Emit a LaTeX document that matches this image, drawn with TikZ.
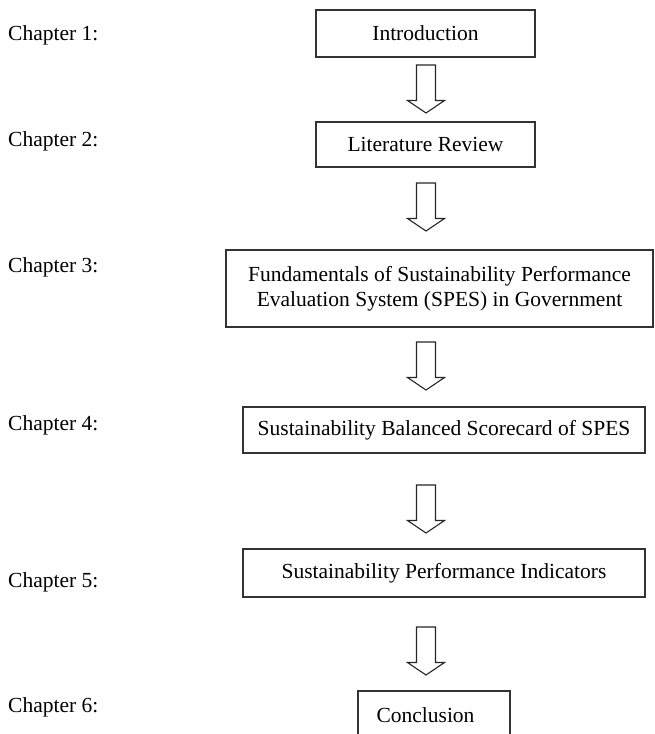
\documentclass[tikz,border=0pt]{standalone}
\usepackage{fontspec}
\setmainfont{Liberation Serif}
\begin{document}
\begin{tikzpicture}[x=1pt,y=1pt,
  stage/.style={draw=black!80, line width=1.4pt, inner sep=0pt, align=center,
                font=\fontsize{21.5}{25}\selectfont},
  caption/.style={inner sep=0pt, font=\fontsize{21.5}{25}\selectfont},
  chap/.style={caption, anchor=west},
  flowline/.style={draw=black!85, line width=1.1pt, line join=miter},
  downarrow/.pic={
    \draw[flowline] (-9.5,0) -- (-9.5,-35.5) -- (-18.5,-35.5) -- (0,-48)
      -- (18.5,-35.5) -- (9.5,-35.5) -- (9.5,0) -- cycle;}
]
\useasboundingbox (0,0) rectangle (654,-734);
\clip (0,0) rectangle (654,-734);

% chapter captions
\node[chap] (c1) at (8,-35)  {Chapter 1:};
\node[chap] (c2) at (8,-141) {Chapter 2:};
\node[chap] (c3) at (8,-267) {Chapter 3:};
\node[chap] (c4) at (8,-425) {Chapter 4:};
\node[chap] (c5) at (8,-582) {Chapter 5:};
\node[chap] (c6) at (8,-707) {Chapter 6:};

% stages of the thesis
\node[stage, minimum width=219pt, minimum height=47pt] (s1) at (425.5,-33.5) {Introduction};
\node[stage, minimum width=219pt, minimum height=45pt] (s2) at (425.5,-144.5) {Literature Review};
\node[stage, minimum width=427pt, minimum height=77pt] (s3) at (439.5,-288.5)
  {Fundamentals of Sustainability Performance\\Evaluation System (SPES) in Government};
\node[stage, minimum width=402pt, minimum height=46pt] (s4) at (444,-430)
  {Sustainability Balanced Scorecard of SPES};
\node[stage, minimum width=402pt, minimum height=48pt] (s5) at (444,-573)
  {Sustainability Performance Indicators};
% last stage: the box runs off the lower edge, its text sits left of centre
\node[stage, minimum width=152pt, minimum height=50pt] (s6) at (434,-716) {};
\node[caption] (s6text) at (425.5,-715) {Conclusion};

% block arrows between the stages
\pic at (426,-65)  {downarrow};
\pic at (426,-183) {downarrow};
\pic at (426,-342) {downarrow};
\pic at (426,-485) {downarrow};
\pic at (426,-627) {downarrow};
\end{tikzpicture}
\end{document}
